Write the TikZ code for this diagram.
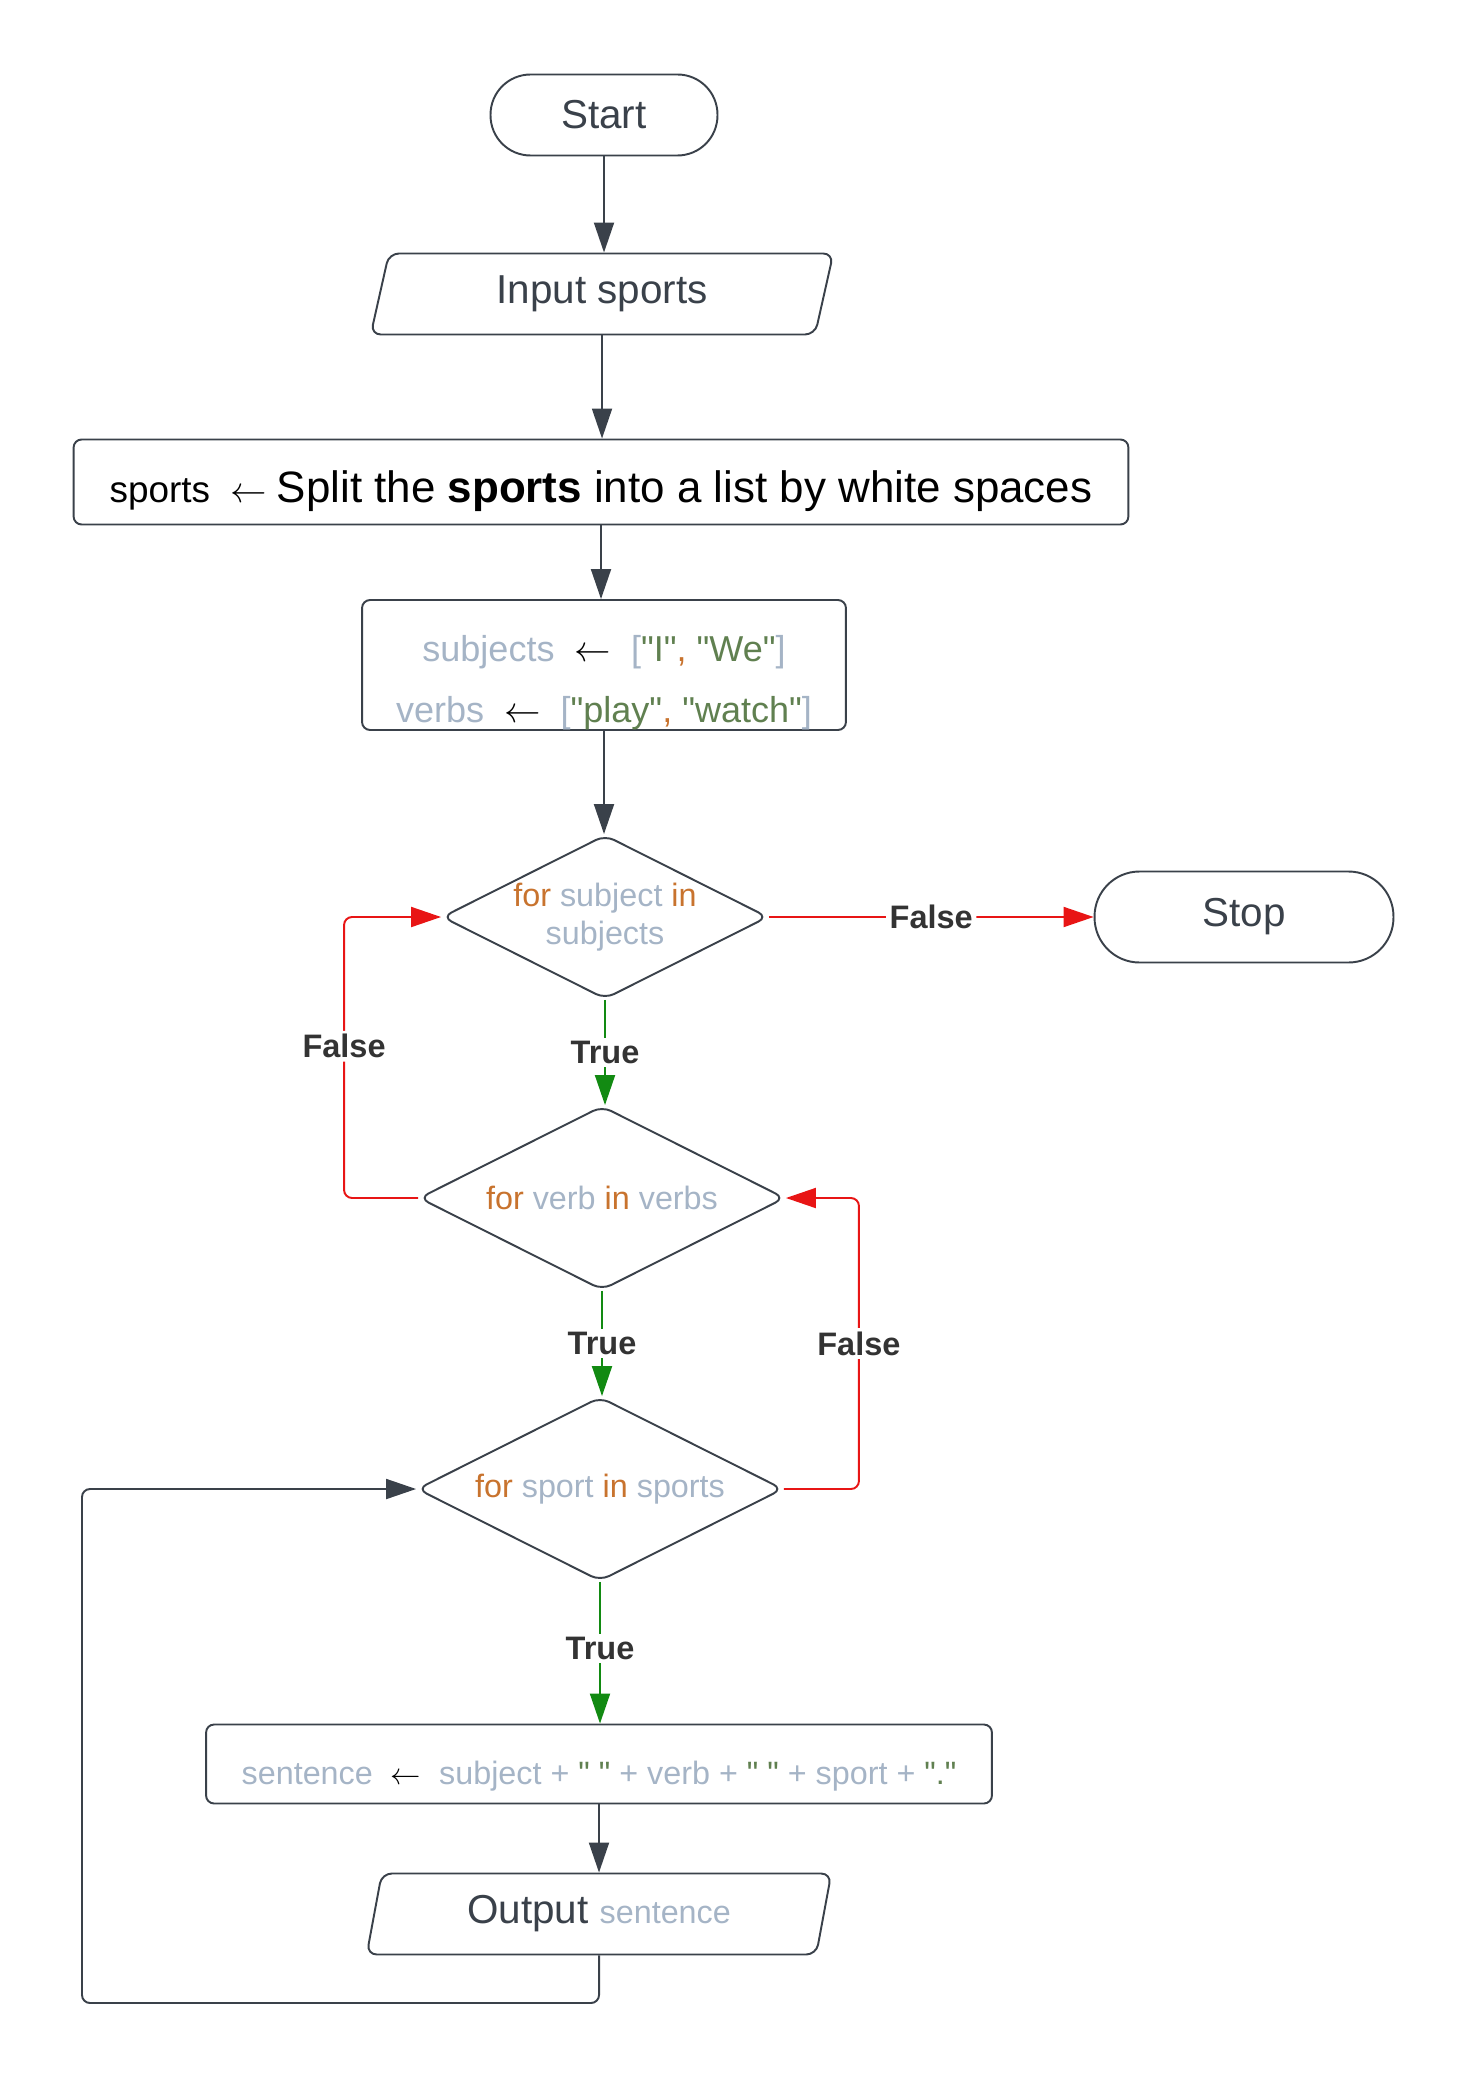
\documentclass[tikz,border=0pt]{standalone}
\usepackage{fontspec}
\setmainfont{Liberation Sans}[Ligatures=TeXOff]
\usetikzlibrary{shapes.geometric,arrows.meta}

\definecolor{linegray}{HTML}{3A414A}
\definecolor{vargray}{HTML}{A5B4C6}
\definecolor{kworange}{HTML}{C8732E}
\definecolor{strgreen}{HTML}{608050}
\definecolor{falsered}{HTML}{E81515}
\definecolor{truegreen}{HTML}{128A12}
\definecolor{lbldark}{HTML}{333333}

\newcommand{\kw}[1]{\textcolor{kworange}{#1}}
\newcommand{\vr}[1]{\textcolor{vargray}{#1}}
\newcommand{\st}[1]{\textcolor{strgreen}{#1}}
\newcommand{\getsarrow}{\textcolor{black}{$\leftarrow$}}

\begin{document}
\begin{tikzpicture}[x=0.02cm,y=-0.02cm]
\tikzstyle{every node}+=[inner sep=0pt]
\tikzstyle{shp}=[draw=linegray, line width=1.1pt, text=linegray]
\tikzstyle{terminal}=[shp, rounded corners=0.8cm, font=\fontsize{23}{28}\selectfont]
\tikzstyle{io}=[shp, trapezium, trapezium left angle=76, trapezium right angle=104, trapezium stretches=true, rounded corners=0.2cm, minimum height=1.62cm, font=\fontsize{23}{28}\selectfont]
\tikzstyle{proc}=[shp, rounded corners=0.16cm]
\tikzstyle{decision}=[shp, diamond, aspect=2, rounded corners=0.2cm, align=center, font=\fontsize{18.4}{22}\selectfont]
\tikzstyle{arr}=[line width=1.1pt, -{Triangle[length=0.6cm,width=0.4cm]}]
\tikzstyle{grayarr}=[arr, draw=linegray]
\tikzstyle{redarr}=[arr, draw=falsered, rounded corners=0.16cm]
\tikzstyle{greenarr}=[arr, draw=truegreen]
\tikzstyle{lbl}=[fill=white, inner sep=2pt, text=lbldark, font=\bfseries\fontsize{18.5}{22}\selectfont]
\useasboundingbox (0,0) rectangle (1470,2081);
\node[terminal, minimum width=4.54cm, minimum height=1.62cm] (start) at (604,115) {Start};
\node[io, minimum width=9.26cm] (inp) at (602,294) {Input sports};
\node[proc, minimum width=21.1cm, minimum height=1.7cm] (split) at (601,482) {};
\node[text=black] (splittext) at (601,491)
  {{\fontsize{21}{24}\selectfont sports\ \ $\leftarrow$}\ \ \fontsize{25}{28}\selectfont Split the \textbf{sports} into a list by white spaces};
\node[proc, minimum width=9.68cm, minimum height=2.6cm] (vars) at (604,665) {};
\node[align=center, font=\fontsize{20.5}{34.6}\selectfont] (varlines) at (604,683)
  {\vr{subjects} \ \getsarrow{} \ \vr{[}\st{"I"}\kw{,} \st{"We"}\vr{]}\\
   \vr{verbs} \ \getsarrow{} \ \vr{[}\st{"play"}\kw{,} \st{"watch"}\vr{]}};
\node[decision, minimum width=6.52cm, minimum height=3.28cm] (d1) at (605,917)
  {\kw{for} \vr{subject} \kw{in}\\\vr{subjects}};
\node[terminal, rounded corners=0.9cm, minimum width=5.98cm, minimum height=1.82cm] (stop) at (1244,917) {Stop};
\node[decision, minimum width=7.32cm, minimum height=3.68cm] (d2) at (602,1198)
  {\kw{for} \vr{verb} \kw{in} \vr{verbs}};
\node[decision, minimum width=7.32cm, minimum height=3.68cm] (d3) at (600,1489)
  {\kw{for} \vr{sport} \kw{in} \vr{sports}};
\node[proc, minimum width=15.72cm, minimum height=1.58cm] (sent) at (599,1764) {};
\node[font=\fontsize{18.4}{22}\selectfont] (senttext) at (599,1776)
  {\vr{sentence} \ \getsarrow{} \ \vr{subject +} \st{" "} \vr{+ verb +} \st{" "} \vr{+ sport +} \st{"."}};
\node[io, minimum width=9.3cm] (outp) at (599,1914)
  {Output {\fontsize{18.4}{22}\selectfont\vr{sentence}}};
\coordinate (loopc) at (82,2003);
\draw[grayarr] (start.south) -- (start.south |- inp.north);
\draw[grayarr] (inp.south) -- (inp.south |- split.north);
\draw[grayarr] (split.south) -- (split.south |- vars.north);
\draw[grayarr] (vars.south) -- (vars.south |- d1.north);
\draw[redarr] (d1.east) -- node[lbl]{False} (stop.west);
\draw[greenarr] (d1.south) -- node[lbl]{True} (d1.south |- d2.north);
\draw[redarr] (d2.west) -- ++(-74,0) |- node[lbl, pos=0.27]{False} (d1.west);
\draw[greenarr] (d2.south) -- node[lbl]{True} (d2.south |- d3.north);
\draw[redarr] (d3.east) -- ++(75,0) |- node[lbl, pos=0.25]{False} (d2.east);
\draw[greenarr] (d3.south) -- node[lbl, pos=0.47]{True} (d3.south |- sent.north);
\draw[grayarr] (sent.south) -- (sent.south |- outp.north);
\draw[grayarr, rounded corners=0.16cm] (outp.south) |- (loopc) |- (d3.west);
\end{tikzpicture}
\end{document}
